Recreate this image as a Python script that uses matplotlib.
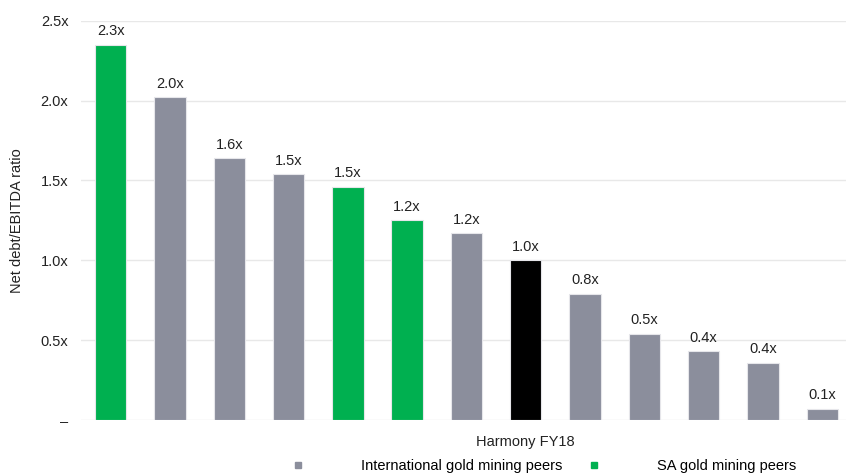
import matplotlib.pyplot as plt
from matplotlib.lines import Line2D

plt.rcParams['font.family'] = ['Liberation Sans', 'DejaVu Sans']

# net debt / EBITDA per peer
values = [2.35, 2.02, 1.64, 1.54, 1.46, 1.25, 1.17, 1.00, 0.79, 0.54, 0.43, 0.36, 0.07]
labels = ['2.3x', '2.0x', '1.6x', '1.5x', '1.5x', '1.2x', '1.2x', '1.0x', '0.8x', '0.5x', '0.4x', '0.4x', '0.1x']
groups = ['sa', 'intl', 'intl', 'intl', 'sa', 'sa', 'intl', 'harmony', 'intl', 'intl', 'intl', 'intl', 'intl']
yticks = [0, 0.5, 1.0, 1.5, 2.0, 2.5]
yticklabels = ['–', '0.5x', '1.0x', '1.5x', '2.0x', '2.5x']

green = '#00B050'
grey = '#8B8E9C'
colors = {'sa': green, 'intl': grey, 'harmony': '#000000'}
fs = 10.5

fig = plt.figure(figsize=(8.46, 4.76), dpi=100)
ax = fig.add_axes([0.0957, 0.1176, 0.9043, 0.8389])

x = range(len(values))
ax.bar(x, values, width=0.53, color=[colors[g] for g in groups],
       edgecolor='#E6E6EA', linewidth=0.8, zorder=3)
for i, (v, t) in enumerate(zip(values, labels)):
    ax.text(i, v + 0.04, t, ha='center', va='bottom', fontsize=fs, color='#222222')

ax.set_xlim(-0.5, 12.4)
ax.set_ylim(0, 2.5)
ax.set_yticks(yticks)
ax.set_yticklabels(yticklabels, fontsize=fs, color='#222222')
ax.set_xticks([7])
ax.set_xticklabels(['Harmony FY18'], fontsize=fs, color='#222222')
ax.tick_params(length=0, pad=9)
ax.tick_params(axis='x', pad=11)
ax.set_ylabel('Net debt/EBITDA ratio', fontsize=fs, color='#222222', labelpad=12)
ax.grid(axis='y', color='#E8E8E8', linewidth=1, zorder=0)
for s in ax.spines.values():
    s.set_visible(False)

handles = [Line2D([], [], marker='s', linestyle='none', color=grey, markersize=5),
           Line2D([], [], marker='s', linestyle='none', color=green, markersize=5)]
fig.legend(handles, ['International gold mining peers', 'SA gold mining peers'],
           loc='center', bbox_to_anchor=(0.643, 0.02), ncol=2, frameon=False,
           fontsize=fs, handletextpad=3.9, columnspacing=1.8, handlelength=0.8)

fig.savefig('out.png', dpi=100)
